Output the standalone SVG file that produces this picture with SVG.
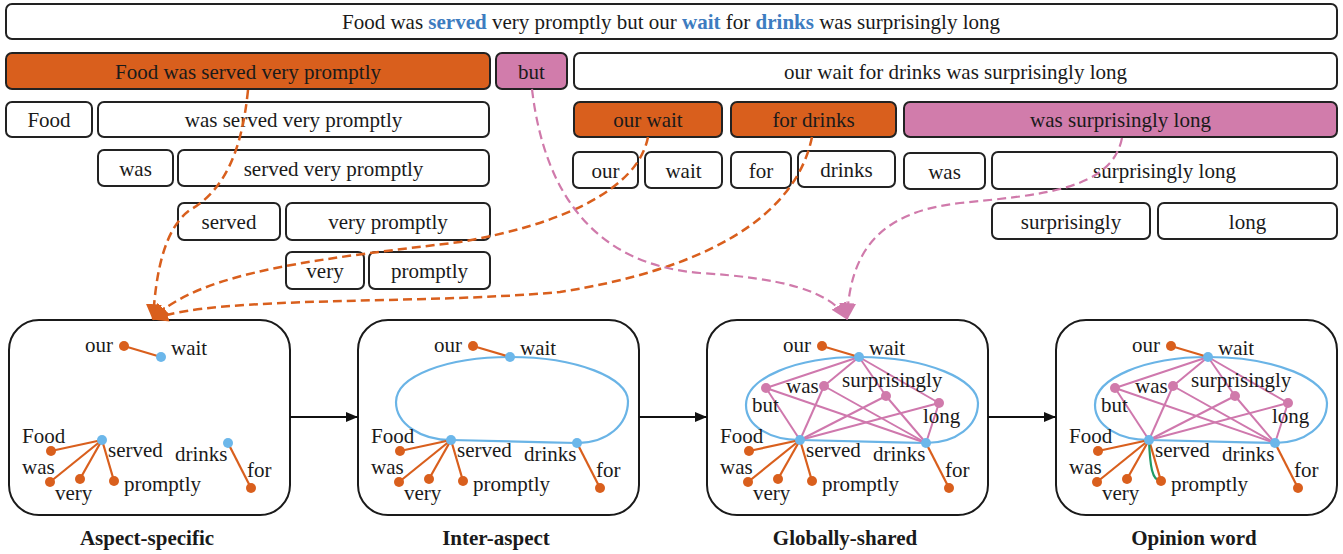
<svg xmlns="http://www.w3.org/2000/svg" width="1343" height="554" viewBox="0 0 1343 554">
  <style>
    .t { font-family: "Liberation Serif", "Times New Roman", serif; font-size: 21px; fill: #1a1a1a; }
    .c { text-anchor: middle; }
    .e { text-anchor: end; }
    .cap { font-weight: bold; }
    .hl { font-weight: bold; fill: #3d7cc0; }
    .box { fill: #ffffff; stroke: #222222; stroke-width: 2; }
    .or { fill: #d95f1d; stroke: #222222; stroke-width: 2; }
    .pk { fill: #d17cab; stroke: #222222; stroke-width: 2; }
    .panel { fill: #ffffff; stroke: #1a1a1a; stroke-width: 2; }
    .eo { stroke: #d95f1d; stroke-width: 2.2; fill: none; }
    .ep { stroke: #cf78ad; stroke-width: 2; fill: none; }
    .eg { stroke: #1f9a66; stroke-width: 2.2; fill: none; }
    .loop { fill: none; stroke: #6ab4e6; stroke-width: 2.2; }
    .do { fill: #d95f1d; }
    .db { fill: #6cb7ea; }
    .dp { fill: #d07aab; }
    .dash-o { fill: none; stroke: #d95f1d; stroke-width: 2.5; stroke-dasharray: 9 5; }
    .dash-p { fill: none; stroke: #d07aab; stroke-width: 2.2; stroke-dasharray: 9 5; }
    .flow { stroke: #111111; stroke-width: 2; fill: none; }
  </style>
  <defs>
    <marker id="headOrange" viewBox="0 0 14 14" refX="13" refY="7" markerUnits="userSpaceOnUse" markerWidth="16" markerHeight="16" orient="auto">
      <path d="M0,0 L14,7 L0,14 z" fill="#d95f1d"/>
    </marker>
    <marker id="headPink" viewBox="0 0 14 14" refX="13" refY="7" markerUnits="userSpaceOnUse" markerWidth="17" markerHeight="17" orient="auto">
      <path d="M0,0 L14,7 L0,14 z" fill="#d07aab"/>
    </marker>
    <marker id="headBlack" viewBox="0 0 12 10" refX="12" refY="5" markerUnits="userSpaceOnUse" markerWidth="12" markerHeight="10" orient="auto">
      <path d="M0,0 L12,5 L0,10 z" fill="#111111"/>
    </marker>
  </defs>

  <!-- full sentence -->
  <g id="sentence">
    <rect class="box" x="6" y="4" width="1331" height="35" rx="6"/>
    <text class="t c" x="671" y="29">Food was <tspan class="hl">served</tspan> very promptly but our <tspan class="hl">wait</tspan> for <tspan class="hl">drinks</tspan> was surprisingly long</text>
  </g>

  <!-- constituency spans -->
  <g id="span-food-was-served-very-promptly">
    <rect class="or" x="6" y="53" width="484" height="36" rx="6"/>
    <text class="t c" x="248" y="78.5">Food was served very promptly</text>
  </g>
  <g id="span-but">
    <rect class="pk" x="496" y="53" width="71" height="36" rx="6"/>
    <text class="t c" x="531.5" y="78.5">but</text>
  </g>
  <g id="span-our-wait-for-drinks-was-surprisingly-long">
    <rect class="box" x="574" y="53" width="763" height="36" rx="6"/>
    <text class="t c" x="955.5" y="78.5">our wait for drinks was surprisingly long</text>
  </g>

  <g id="span-food">
    <rect class="box" x="6" y="102" width="86" height="35" rx="6"/>
    <text class="t c" x="49" y="127">Food</text>
  </g>
  <g id="span-was-served-very-promptly">
    <rect class="box" x="98" y="102" width="391" height="35" rx="6"/>
    <text class="t c" x="293.5" y="127">was served very promptly</text>
  </g>
  <g id="span-our-wait">
    <rect class="or" x="574" y="102" width="148" height="35" rx="6"/>
    <text class="t c" x="648" y="127">our wait</text>
  </g>
  <g id="span-for-drinks">
    <rect class="or" x="731" y="102" width="165" height="35" rx="6"/>
    <text class="t c" x="813.5" y="127">for drinks</text>
  </g>
  <g id="span-was-surprisingly-long">
    <rect class="pk" x="904" y="102" width="433" height="35" rx="6"/>
    <text class="t c" x="1120.5" y="127">was surprisingly long</text>
  </g>

  <g id="span-was-1">
    <rect class="box" x="98" y="150" width="75" height="36" rx="6"/>
    <text class="t c" x="135.5" y="175.5">was</text>
  </g>
  <g id="span-served-very-promptly">
    <rect class="box" x="178" y="150" width="311" height="36" rx="6"/>
    <text class="t c" x="333.5" y="175.5">served very promptly</text>
  </g>
  <g id="span-our">
    <rect class="box" x="573" y="152" width="65" height="36" rx="6"/>
    <text class="t c" x="605.5" y="177.5">our</text>
  </g>
  <g id="span-wait">
    <rect class="box" x="645" y="152" width="77" height="36" rx="6"/>
    <text class="t c" x="683.5" y="177.5">wait</text>
  </g>
  <g id="span-for">
    <rect class="box" x="731" y="152" width="60" height="36" rx="6"/>
    <text class="t c" x="761" y="177.5">for</text>
  </g>
  <g id="span-drinks">
    <rect class="box" x="798" y="151" width="97" height="36" rx="6"/>
    <text class="t c" x="846.5" y="176.5">drinks</text>
  </g>
  <g id="span-was-2">
    <rect class="box" x="904" y="153" width="81" height="36" rx="6"/>
    <text class="t c" x="944.5" y="178.5">was</text>
  </g>
  <g id="span-surprisingly-long">
    <rect class="box" x="992" y="152" width="345" height="37" rx="6"/>
    <text class="t c" x="1164.5" y="178">surprisingly long</text>
  </g>

  <g id="span-served">
    <rect class="box" x="178" y="203" width="102" height="37" rx="6"/>
    <text class="t c" x="229" y="229">served</text>
  </g>
  <g id="span-very-promptly">
    <rect class="box" x="286" y="203" width="204" height="37" rx="6"/>
    <text class="t c" x="388" y="229">very promptly</text>
  </g>
  <g id="span-surprisingly">
    <rect class="box" x="992" y="203" width="158" height="36" rx="6"/>
    <text class="t c" x="1071" y="228.5">surprisingly</text>
  </g>
  <g id="span-long">
    <rect class="box" x="1158" y="203" width="179" height="36" rx="6"/>
    <text class="t c" x="1247.5" y="228.5">long</text>
  </g>

  <g id="span-very">
    <rect class="box" x="286" y="252" width="78" height="37" rx="6"/>
    <text class="t c" x="325" y="278">very</text>
  </g>
  <g id="span-promptly">
    <rect class="box" x="369" y="252" width="121" height="37" rx="6"/>
    <text class="t c" x="429.5" y="278">promptly</text>
  </g>

  <!-- graph panels (drawn in panel-1 coordinates, shifted per panel) -->
  <g id="panel-aspect-specific">
    <rect class="panel" x="9" y="320" width="281" height="195" rx="30"/>
    <g class="edges-orange">
      <line class="eo" x1="124" y1="346" x2="161" y2="357"/>
      <line class="eo" x1="102" y1="440" x2="51" y2="451"/>
      <line class="eo" x1="102" y1="440" x2="50" y2="482"/>
      <line class="eo" x1="102" y1="440" x2="80" y2="479"/>
      <line class="eo" x1="102" y1="440" x2="114" y2="481"/>
      <line class="eo" x1="228" y1="443" x2="251" y2="488"/>
    </g>
    <circle class="do" cx="124" cy="346" r="5"/>
    <circle class="db" cx="161" cy="357" r="5"/>
    <circle class="db" cx="102" cy="440" r="5"/>
    <circle class="do" cx="51" cy="451" r="5"/>
    <circle class="do" cx="50" cy="482" r="5"/>
    <circle class="do" cx="80" cy="479" r="5"/>
    <circle class="do" cx="114" cy="481" r="5"/>
    <circle class="db" cx="228" cy="443" r="5"/>
    <circle class="do" cx="251" cy="488" r="5"/>
    <text class="t e" x="113" y="352">our</text>
    <text class="t" x="171" y="355">wait</text>
    <text class="t" x="22" y="443">Food</text>
    <text class="t" x="108" y="457">served</text>
    <text class="t" x="175" y="461">drinks</text>
    <text class="t" x="22" y="474">was</text>
    <text class="t" x="247" y="477">for</text>
    <text class="t" x="124" y="491">promptly</text>
    <text class="t" x="55" y="500">very</text>
    <text class="t c cap" x="147" y="545">Aspect-specific</text>
  </g>

  <g id="panel-inter-aspect" transform="translate(349,0)">
    <rect class="panel" x="9" y="320" width="281" height="195" rx="30"/>
    <path class="loop" d="M161,357 C228,357 279,378 279,401 C279,425 258,443 228,443 C185,442 140,441 102,440 C72,440 47,424 47,402 C47,376 98,357 161,357 Z"/>
    <g class="edges-orange">
      <line class="eo" x1="124" y1="346" x2="161" y2="357"/>
      <line class="eo" x1="102" y1="440" x2="51" y2="451"/>
      <line class="eo" x1="102" y1="440" x2="50" y2="482"/>
      <line class="eo" x1="102" y1="440" x2="80" y2="479"/>
      <line class="eo" x1="102" y1="440" x2="114" y2="481"/>
      <line class="eo" x1="228" y1="443" x2="251" y2="488"/>
    </g>
    <circle class="do" cx="124" cy="346" r="5"/>
    <circle class="db" cx="161" cy="357" r="5"/>
    <circle class="db" cx="102" cy="440" r="5"/>
    <circle class="do" cx="51" cy="451" r="5"/>
    <circle class="do" cx="50" cy="482" r="5"/>
    <circle class="do" cx="80" cy="479" r="5"/>
    <circle class="do" cx="114" cy="481" r="5"/>
    <circle class="db" cx="228" cy="443" r="5"/>
    <circle class="do" cx="251" cy="488" r="5"/>
    <text class="t e" x="113" y="352">our</text>
    <text class="t" x="171" y="355">wait</text>
    <text class="t" x="22" y="443">Food</text>
    <text class="t" x="108" y="457">served</text>
    <text class="t" x="175" y="461">drinks</text>
    <text class="t" x="22" y="474">was</text>
    <text class="t" x="247" y="477">for</text>
    <text class="t" x="124" y="491">promptly</text>
    <text class="t" x="55" y="500">very</text>
    <text class="t c cap" x="147" y="545">Inter-aspect</text>
  </g>

  <g id="panel-globally-shared" transform="translate(698,0)">
    <rect class="panel" x="9" y="320" width="281" height="195" rx="30"/>
    <path class="loop" d="M161,357 C230,357 280,380 280,403 C280,426 258,443 228,443 C185,442 140,441 102,440 C72,440 48,426 48,405 C48,378 98,357 161,357 Z"/>
    <g class="edges-pink">
      <line class="ep" x1="161" y1="357" x2="68" y2="388"/>
      <line class="ep" x1="161" y1="357" x2="126" y2="386"/>
      <line class="ep" x1="161" y1="357" x2="188" y2="396"/>
      <line class="ep" x1="161" y1="357" x2="241" y2="403"/>
      <line class="ep" x1="102" y1="440" x2="68" y2="388"/>
      <line class="ep" x1="102" y1="440" x2="126" y2="386"/>
      <line class="ep" x1="102" y1="440" x2="188" y2="396"/>
      <line class="ep" x1="102" y1="440" x2="241" y2="403"/>
      <line class="ep" x1="228" y1="443" x2="68" y2="388"/>
      <line class="ep" x1="228" y1="443" x2="126" y2="386"/>
      <line class="ep" x1="228" y1="443" x2="188" y2="396"/>
      <line class="ep" x1="228" y1="443" x2="241" y2="403"/>
    </g>
    <g class="edges-orange">
      <line class="eo" x1="124" y1="346" x2="161" y2="357"/>
      <line class="eo" x1="102" y1="440" x2="51" y2="451"/>
      <line class="eo" x1="102" y1="440" x2="50" y2="482"/>
      <line class="eo" x1="102" y1="440" x2="80" y2="479"/>
      <line class="eo" x1="102" y1="440" x2="114" y2="481"/>
      <line class="eo" x1="228" y1="443" x2="251" y2="488"/>
    </g>
    <circle class="do" cx="124" cy="346" r="5"/>
    <circle class="db" cx="161" cy="357" r="5"/>
    <circle class="db" cx="102" cy="440" r="5"/>
    <circle class="do" cx="51" cy="451" r="5"/>
    <circle class="do" cx="50" cy="482" r="5"/>
    <circle class="do" cx="80" cy="479" r="5"/>
    <circle class="do" cx="114" cy="481" r="5"/>
    <circle class="db" cx="228" cy="443" r="5"/>
    <circle class="do" cx="251" cy="488" r="5"/>
    <circle class="dp" cx="68" cy="388" r="5"/>
    <circle class="dp" cx="126" cy="386" r="5"/>
    <circle class="dp" cx="188" cy="396" r="5"/>
    <circle class="dp" cx="241" cy="403" r="5"/>
    <text class="t e" x="113" y="352">our</text>
    <text class="t" x="171" y="355">wait</text>
    <text class="t" x="54" y="412">but</text>
    <text class="t" x="88" y="393">was</text>
    <text class="t" x="144" y="387">surprisingly</text>
    <text class="t" x="225" y="423">long</text>
    <text class="t" x="22" y="443">Food</text>
    <text class="t" x="108" y="457">served</text>
    <text class="t" x="175" y="461">drinks</text>
    <text class="t" x="22" y="474">was</text>
    <text class="t" x="247" y="477">for</text>
    <text class="t" x="124" y="491">promptly</text>
    <text class="t" x="55" y="500">very</text>
    <text class="t c cap" x="147" y="545">Globally-shared</text>
  </g>

  <g id="panel-opinion-word" transform="translate(1047,0)">
    <rect class="panel" x="9" y="320" width="281" height="195" rx="30"/>
    <path class="loop" d="M161,357 C230,357 280,380 280,403 C280,426 258,443 228,443 C185,442 140,441 102,440 C72,440 48,426 48,405 C48,378 98,357 161,357 Z"/>
    <g class="edges-pink">
      <line class="ep" x1="161" y1="357" x2="68" y2="388"/>
      <line class="ep" x1="161" y1="357" x2="126" y2="386"/>
      <line class="ep" x1="161" y1="357" x2="188" y2="396"/>
      <line class="ep" x1="161" y1="357" x2="241" y2="403"/>
      <line class="ep" x1="102" y1="440" x2="68" y2="388"/>
      <line class="ep" x1="102" y1="440" x2="126" y2="386"/>
      <line class="ep" x1="102" y1="440" x2="188" y2="396"/>
      <line class="ep" x1="102" y1="440" x2="241" y2="403"/>
      <line class="ep" x1="228" y1="443" x2="68" y2="388"/>
      <line class="ep" x1="228" y1="443" x2="126" y2="386"/>
      <line class="ep" x1="228" y1="443" x2="188" y2="396"/>
      <line class="ep" x1="228" y1="443" x2="241" y2="403"/>
    </g>
    <g class="edges-orange">
      <line class="eo" x1="124" y1="346" x2="161" y2="357"/>
      <line class="eo" x1="102" y1="440" x2="51" y2="451"/>
      <line class="eo" x1="102" y1="440" x2="50" y2="482"/>
      <line class="eo" x1="102" y1="440" x2="80" y2="479"/>
      <line class="eo" x1="102" y1="440" x2="114" y2="481"/>
      <line class="eo" x1="228" y1="443" x2="251" y2="488"/>
    </g>
    <path class="eg" d="M102,440 C103,466 105,481 114,481"/>
    <circle class="do" cx="124" cy="346" r="5"/>
    <circle class="db" cx="161" cy="357" r="5"/>
    <circle class="db" cx="102" cy="440" r="5"/>
    <circle class="do" cx="51" cy="451" r="5"/>
    <circle class="do" cx="50" cy="482" r="5"/>
    <circle class="do" cx="80" cy="479" r="5"/>
    <circle class="do" cx="114" cy="481" r="5"/>
    <circle class="db" cx="228" cy="443" r="5"/>
    <circle class="do" cx="251" cy="488" r="5"/>
    <circle class="dp" cx="68" cy="388" r="5"/>
    <circle class="dp" cx="126" cy="386" r="5"/>
    <circle class="dp" cx="188" cy="396" r="5"/>
    <circle class="dp" cx="241" cy="403" r="5"/>
    <text class="t e" x="113" y="352">our</text>
    <text class="t" x="171" y="355">wait</text>
    <text class="t" x="54" y="412">but</text>
    <text class="t" x="88" y="393">was</text>
    <text class="t" x="144" y="387">surprisingly</text>
    <text class="t" x="225" y="423">long</text>
    <text class="t" x="22" y="443">Food</text>
    <text class="t" x="108" y="457">served</text>
    <text class="t" x="175" y="461">drinks</text>
    <text class="t" x="22" y="474">was</text>
    <text class="t" x="247" y="477">for</text>
    <text class="t" x="124" y="491">promptly</text>
    <text class="t" x="55" y="500">very</text>
    <text class="t c cap" x="147" y="545">Opinion word</text>
  </g>

  <!-- connectors -->
  <g id="connectors">
    <path class="dash-o" d="M248,90 C242,150 225,190 190,210 C165,228 156,270 153,319" marker-end="url(#headOrange)"/>
    <path class="dash-o" d="M648,137 C638,190 560,225 460,242 C330,258 200,270 153,319" marker-end="url(#headOrange)"/>
    <path class="dash-o" d="M812,137 C795,220 700,270 560,292 C420,305 220,295 153,319" marker-end="url(#headOrange)"/>
    <path class="dash-p" d="M532,89 C545,200 600,265 700,273 C780,278 830,290 847,319" marker-end="url(#headPink)"/>
    <path class="dash-p" d="M1122,138 C1112,190 1040,195 960,203 C880,212 850,250 847,319" marker-end="url(#headPink)"/>
    <line class="flow" x1="290" y1="417" x2="358" y2="417" marker-end="url(#headBlack)"/>
    <line class="flow" x1="639" y1="417" x2="707" y2="417" marker-end="url(#headBlack)"/>
    <line class="flow" x1="988" y1="417" x2="1056" y2="417" marker-end="url(#headBlack)"/>
  </g>
</svg>
